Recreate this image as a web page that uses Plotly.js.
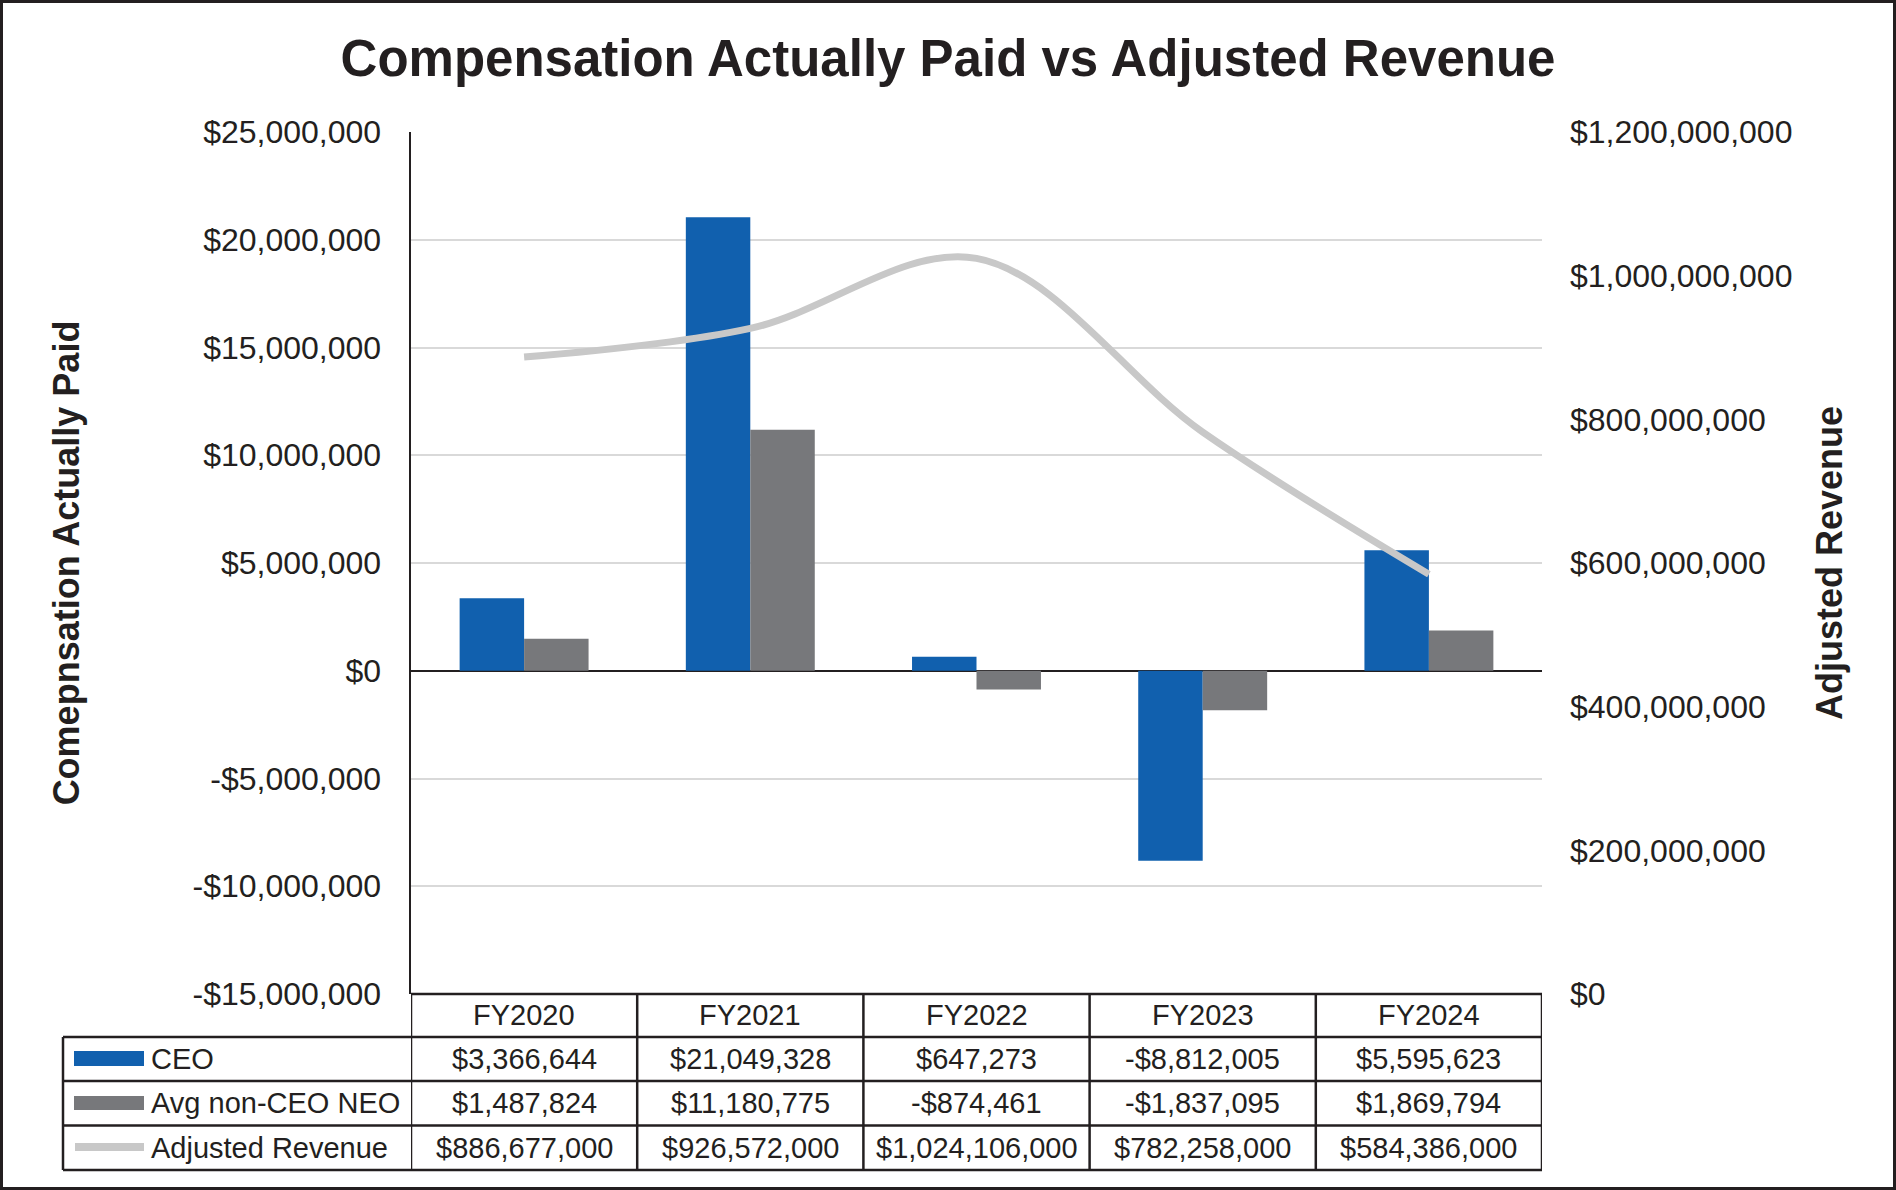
<!DOCTYPE html>
<html>
<head>
<meta charset="utf-8">
<script src="https://cdn.plot.ly/plotly-3.0.1.min.js"></script>
<style>
  html, body { margin: 0; padding: 0; background: #ffffff; }
  #wrap { position: relative; width: 1896px; height: 1190px; }
  #chart { width: 1896px; height: 1190px; }
  #frame { position: absolute; left: 0; top: 0; width: 1896px; height: 1190px;
           box-sizing: border-box; border: 3px solid #231f20; pointer-events: none; }
</style>
</head>
<body>
<div id="wrap"><div id="chart"></div><div id="frame"></div></div>
<script>
// ---- data ----
const categories = ['FY2020', 'FY2021', 'FY2022', 'FY2023', 'FY2024'];
const ceo = [3366644, 21049328, 647273, -8812005, 5595623];
const neo = [1487824, 11180775, -874461, -1837095, 1869794];
const revenue = [886677000, 926572000, 1024106000, 782258000, 584386000];
const seriesNames = ['CEO', 'Avg non-CEO NEO', 'Adjusted Revenue'];
const leftTickVals = [-15000000, -10000000, -5000000, 0, 5000000, 10000000, 15000000, 20000000, 25000000];
const rightTickVals = [0, 200000000, 400000000, 600000000, 800000000, 1000000000, 1200000000];

// ---- helpers ----
function money(v) {
  const s = String(Math.abs(Math.round(v))).replace(/\B(?=(\d{3})+(?!\d))/g, ',');
  return (v < 0 ? '-$' : '$') + s;
}
const FONT = 'Liberation Sans, Arial, Helvetica, sans-serif';
const INK = '#231f20';
const BLUE = '#1160ae';
const GRAY = '#77787b';
const LINEGRAY = '#c8c8c8';

// plot area in pixels: x 411..1542, y 132..994
const PL = 411, PR = 1542, PT = 132, PB = 994;
const px = x => (x - PL) / (PR - PL);
const py = y => (PB - y) / (PB - PT);

const rowY = [1015, 1059, 1103, 1147.5]; // header, CEO, NEO, revenue
const rowLines = [1037, 1081, 1125.5, 1170];

const traces = [
  { type: 'bar', name: seriesNames[0], x: categories, y: ceo, marker: { color: BLUE }, yaxis: 'y', xaxis: 'x', hoverinfo: 'skip' },
  { type: 'bar', name: seriesNames[1], x: categories, y: neo, marker: { color: GRAY }, yaxis: 'y', xaxis: 'x', hoverinfo: 'skip' },
  { type: 'scatter', mode: 'lines', name: seriesNames[2], x: categories, y: revenue, yaxis: 'y2', xaxis: 'x',
    line: { color: LINEGRAY, width: 7, shape: 'spline', smoothing: 1 }, hoverinfo: 'skip' }
];

const shapes = [];
const lineStyle = { color: INK, width: 2.5 };
// table top border (coincides with -15M gridline)
shapes.push({ type: 'line', xref: 'paper', yref: 'paper', x0: 0, x1: 1, y0: py(PB), y1: py(PB), line: lineStyle });
// horizontal row lines
rowLines.forEach(yy => shapes.push({ type: 'line', xref: 'paper', yref: 'paper', x0: px(63), x1: 1, y0: py(yy), y1: py(yy), line: lineStyle }));
// left border of label column
shapes.push({ type: 'line', xref: 'paper', yref: 'paper', x0: px(63), x1: px(63), y0: py(1037), y1: py(1170), line: lineStyle });
// column separators
for (let i = 0; i <= categories.length; i++) {
  shapes.push({ type: 'line', xref: 'x', yref: 'paper', x0: i - 0.5, x1: i - 0.5, y0: py(PB), y1: py(1170), line: lineStyle });
}
// legend keys
shapes.push({ type: 'rect', xref: 'paper', yref: 'paper', x0: px(74), x1: px(144), y0: py(1051), y1: py(1066), fillcolor: BLUE, line: { width: 0 } });
shapes.push({ type: 'rect', xref: 'paper', yref: 'paper', x0: px(74), x1: px(144), y0: py(1096), y1: py(1110), fillcolor: GRAY, line: { width: 0 } });
shapes.push({ type: 'line', xref: 'paper', yref: 'paper', x0: px(75), x1: px(144), y0: py(1147), y1: py(1147), line: { color: LINEGRAY, width: 8 } });

const annotations = [];
const tf = { family: FONT, size: 29, color: INK };
categories.forEach((c, i) => {
  annotations.push({ xref: 'x', yref: 'paper', x: c, y: py(rowY[0]), text: c, showarrow: false, xanchor: 'center', yanchor: 'middle', font: tf });
  annotations.push({ xref: 'x', yref: 'paper', x: c, y: py(rowY[1]), text: money(ceo[i]), showarrow: false, xanchor: 'center', yanchor: 'middle', font: tf });
  annotations.push({ xref: 'x', yref: 'paper', x: c, y: py(rowY[2]), text: money(neo[i]), showarrow: false, xanchor: 'center', yanchor: 'middle', font: tf });
  annotations.push({ xref: 'x', yref: 'paper', x: c, y: py(rowY[3]), text: money(revenue[i]), showarrow: false, xanchor: 'center', yanchor: 'middle', font: tf });
});
seriesNames.forEach((n, k) => {
  annotations.push({ xref: 'paper', yref: 'paper', x: px(149), y: py(rowY[k + 1]), text: n, showarrow: false, xanchor: 'left', yanchor: 'middle', font: tf });
});

const layout = {
  width: 1896, height: 1190,
  paper_bgcolor: '#ffffff', plot_bgcolor: '#ffffff',
  margin: { l: PL, r: 1896 - PR, t: PT, b: 1190 - PB, pad: 0 },
  showlegend: false,
  barmode: 'group', bargap: 0.43, bargroupgap: 0,
  title: { text: 'Compensation Actually Paid vs Adjusted Revenue', x: 0.5, xref: 'container', xanchor: 'center',
           y: 1 - 58 / 1190, yref: 'container', yanchor: 'middle',
           font: { family: FONT, size: 51, color: INK, weight: 700 } },
  font: { family: FONT, color: INK },
  xaxis: { type: 'category', range: [-0.5, 4.5], showticklabels: false, showgrid: false, zeroline: false, showline: false, ticks: '', fixedrange: true },
  yaxis: {
    range: [-15000000, 25000000], tickvals: leftTickVals, ticktext: leftTickVals.map(money),
    showgrid: true, gridcolor: '#d9d9d9', gridwidth: 2,
    zeroline: true, zerolinecolor: INK, zerolinewidth: 2.5,
    showline: true, linecolor: INK, linewidth: 2.5,
    ticks: '', ticklabelstandoff: 21,
    tickfont: { family: FONT, size: 32, color: INK },
    title: { text: 'Comepnsation Actually Paid', standoff: 102, font: { family: FONT, size: 36, color: INK, weight: 700 } },
    fixedrange: true
  },
  yaxis2: {
    overlaying: 'y', side: 'right', range: [0, 1200000000],
    tickvals: rightTickVals, ticktext: rightTickVals.map(money),
    showgrid: false, zeroline: false, showline: false,
    ticks: '', ticklabelstandoff: 27,
    tickfont: { family: FONT, size: 32, color: INK },
    title: { text: 'Adjusted Revenue', standoff: 25, font: { family: FONT, size: 36, color: INK, weight: 700 } },
    fixedrange: true
  },
  shapes: shapes,
  annotations: annotations
};

Plotly.newPlot('chart', traces, layout, { staticPlot: true, displayModeBar: false });
</script>
</body>
</html>
